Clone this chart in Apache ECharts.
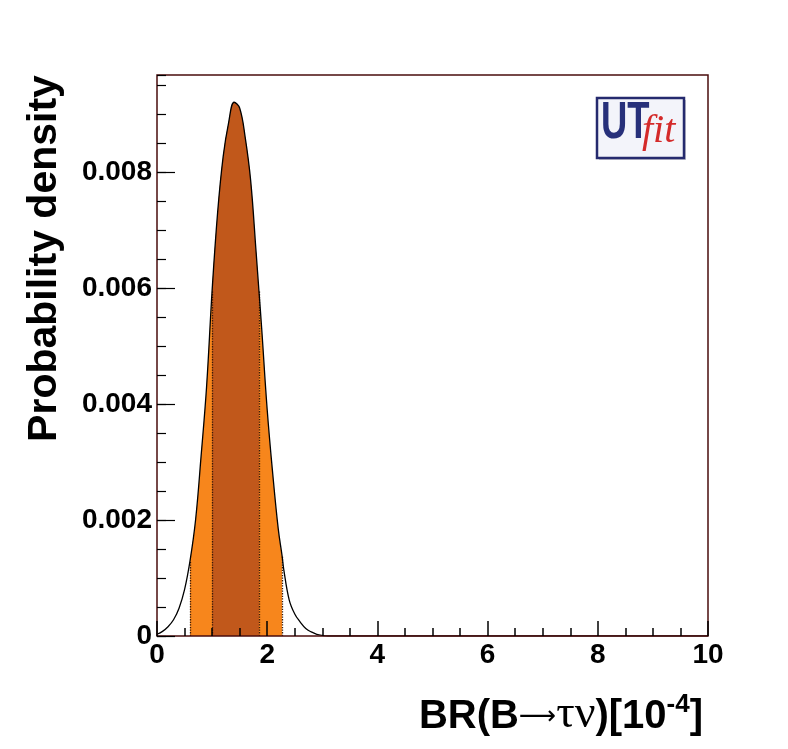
<!DOCTYPE html>
<html>
<head>
<meta charset="utf-8">
<script src="https://cdn.jsdelivr.net/npm/echarts@6/dist/echarts.min.js"></script>
<style>
html,body{margin:0;padding:0;background:#fff;}
#chart{width:788px;height:749px;}
</style>
</head>
<body>
<div id="chart"></div>
<script>
// BR(B -> tau nu) in units of 1e-4
const xValues = [0, 0.1, 0.2, 0.3, 0.4, 0.5, 0.6, 0.7, 0.8, 0.9, 1.0, 1.1, 1.2, 1.3, 1.4, 1.5, 1.6, 1.7, 1.8, 1.85, 1.9, 2.0, 2.1, 2.2, 2.27, 2.3, 2.4, 2.5, 2.6, 2.7, 2.8, 2.9, 3.0, 3.1, 3.5, 10];
// probability density
const density = [0.00003, 0.00008, 0.00016, 0.00028, 0.00048, 0.00080, 0.00130, 0.00200, 0.00310, 0.00430, 0.00595, 0.00730, 0.00826, 0.00885, 0.00920, 0.00910, 0.00860, 0.00785, 0.00660, 0.00595, 0.00530, 0.00390, 0.00280, 0.00185, 0.00138, 0.00115, 0.00062, 0.00038, 0.00024, 0.00013, 0.00007, 0.00003, 0.00001, 0, 0, 0];
// probability intervals
const band68 = [1.0, 1.85];
const band95 = [0.6, 2.27];
const xTicks = [0, 2, 4, 6, 8, 10];
const yTicks = [0, 0.002, 0.004, 0.006, 0.008];
const yMax = 0.00967;

const points = xValues.map((x, i) => [x, density[i]]);
const inBand = b => points.filter(p => p[0] >= b[0] - 1e-9 && p[0] <= b[1] + 1e-9);
const yAt = x => density[xValues.indexOf(x)];
const edgeLines = b => b.map(x => [{coord: [x, 0]}, {coord: [x, yAt(x)]}]);

const chart = echarts.init(document.getElementById('chart'));
const labelFont = {fontFamily: 'Liberation Sans', fontWeight: 'bold', fontSize: 28, color: '#000'};

chart.setOption({
  backgroundColor: '#ffffff',
  animation: false,
  grid: {left: 157, right: 80, top: 75, bottom: 113, show: true, borderColor: '#4a0c0c', borderWidth: 1.5, z: 10},
  xAxis: {
    type: 'value', min: xTicks[0], max: xTicks[xTicks.length - 1], interval: xTicks[1] - xTicks[0], z: 10,
    axisLine: {show: false},
    axisTick: {inside: true, length: 15, lineStyle: {color: '#000', width: 1.5}},
    minorTick: {show: true, splitNumber: 4, length: 8, lineStyle: {color: '#000', width: 1.5}},
    axisLabel: Object.assign({margin: 5}, labelFont),
    splitLine: {show: false}
  },
  yAxis: [{
    type: 'value', min: 0, max: yMax, interval: yTicks[1] - yTicks[0], z: 10, position: 'left',
    axisLine: {show: false},
    axisTick: {inside: true, length: 18, lineStyle: {color: '#000', width: 1.2}},
    axisLabel: Object.assign({margin: 5, showMaxLabel: false,
      formatter: v => (v === 0 ? '0' : (yTicks.includes(Math.round(v * 1e6) / 1e6) ? v.toFixed(3) : ''))}, labelFont),
    splitLine: {show: false}
  }, {
    type: 'value', min: 0, max: yMax, interval: (yTicks[1] - yTicks[0]) / 4, z: 10, position: 'left', offset: 0,
    axisLine: {show: false},
    axisTick: {inside: true, length: 9, lineStyle: {color: '#000', width: 1.2}},
    axisLabel: {show: false},
    splitLine: {show: false}
  }],
  series: [{
    type: 'line', data: inBand(band95), smooth: 0.4, symbol: 'none', z: 2,
    lineStyle: {width: 0}, areaStyle: {color: '#f7861c', opacity: 1},
    markLine: {silent: true, symbol: ['none', 'none'], label: {show: false},
      lineStyle: {type: 'dotted', color: '#3b1a08', width: 1.3}, data: edgeLines(band95)}
  }, {
    type: 'line', data: inBand(band68), smooth: 0.4, symbol: 'none', z: 3,
    lineStyle: {width: 0}, areaStyle: {color: '#c1581b', opacity: 1},
    markLine: {silent: true, symbol: ['none', 'none'], label: {show: false},
      lineStyle: {type: 'dotted', color: '#3b1a08', width: 1.3}, data: edgeLines(band68)}
  }, {
    type: 'line', data: points, smooth: 0.4, symbol: 'none', z: 5,
    lineStyle: {color: '#000', width: 1.3}
  }],
  graphic: [
    {type: 'text', x: 44.6, y: 258.5, rotation: Math.PI / 2, z: 20,
      style: {text: 'Probability density', font: 'bold 41px "Liberation Sans"', fill: '#000', align: 'center', verticalAlign: 'middle'}},
    {type: 'text', x: 703, y: 717, z: 20,
      style: {text: '{b|BR(B}{a|⟶}{s|τν}{b|)[10}{sup|-4}{b|]}', align: 'right', verticalAlign: 'middle',
        rich: {
          b: {fontFamily: 'Liberation Sans', fontWeight: 'bold', fontSize: 40, color: '#000'},
          a: {fontFamily: 'DejaVu Sans', fontSize: 26, color: '#000'},
          s: {fontFamily: 'Liberation Serif', fontSize: 46, color: '#000', padding: [0, 0, 4, 0]},
          sup: {fontFamily: 'Liberation Sans', fontWeight: 'bold', fontSize: 26, color: '#000', verticalAlign: 'top', padding: [0, 0, 16, 0]}
        }}},
    {type: 'rect', shape: {x: 599, y: 100, width: 87, height: 60}, z: 19,
      style: {fill: '#c8c8d0', stroke: null}},
    {type: 'rect', shape: {x: 597, y: 98, width: 87, height: 60}, z: 20,
      style: {fill: '#f3f4fa', stroke: '#252a6e', lineWidth: 2.5}},
    {type: 'text', x: 601, y: 124, scaleX: 0.7, z: 21,
      style: {text: 'UT', font: 'bold 52px "Liberation Sans"', fill: '#27307a', align: 'left', verticalAlign: 'middle'}},
    {type: 'text', x: 642, y: 131, z: 21,
      style: {text: 'fit', font: 'italic 40px "Liberation Serif"', fill: '#d42a2a', align: 'left', verticalAlign: 'middle'}}
  ]
});
</script>
</body>
</html>
